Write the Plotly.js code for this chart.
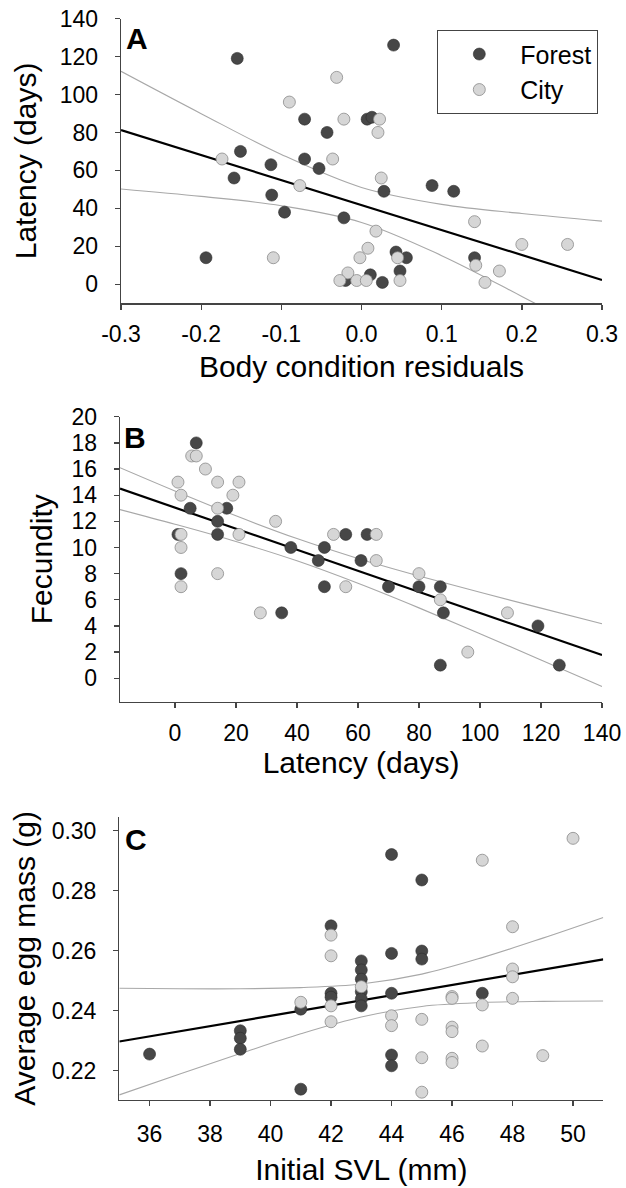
<!DOCTYPE html>
<html>
<head>
<meta charset="utf-8">
<script src="https://cdn.plot.ly/plotly-3.0.1.min.js"></script>
<style>html,body{margin:0;padding:0;background:#fff;}</style>
</head>
<body>
<div id="chart" style="width:626px;height:1188px;"></div>
<script>
// ---------- Panel A: latency vs body condition residuals ----------
const aForestX = [-0.155,-0.071,-0.043,-0.151,-0.113,-0.071,-0.053,-0.159,-0.112,-0.096,-0.022,-0.194,0.007,0.013,-0.020,0.011,0.040,0.028,0.088,0.115,0.043,0.056,0.048,0.026,0.141];
const aForestY = [119,87,80,70,63,66,61,56,47,38,35,14,87,88,2,5,126,49,52,49,17,14,7,1,14];
const aCityX = [-0.031,-0.090,-0.022,-0.174,-0.036,-0.077,-0.110,0.008,-0.002,-0.017,-0.027,-0.006,0.006,0.0225,0.0205,0.0246,0.018,0.045,0.048,0.141,0.1425,0.200,0.257,0.172,0.154];
const aCityY = [109,96,87,66,66,52,14,19,14,6,2,2,2,87,80,56,28,14,2,33,10,21,21,7,1];
const aFitX = [-0.3,-0.2,-0.1,0,0.1,0.2,0.3];
const aFitY = [81.2,68.0,54.9,41.8,28.6,15.5,2.3];
const aUpper = [112.2,89.9,68.4,51.0,42.1,37.3,33.3];
const aLower = [50.2,46.3,41.4,32.6,15.1,-6.4,-28.7];
const aTickVals = [-0.3,-0.2,-0.1,0,0.1,0.2,0.3];
const aTickText = ['-0.3','-0.2','-0.1','0.0','0.1','0.2','0.3'];

// ---------- Panel B: fecundity vs latency ----------
const bForestX = [7,5,17,14,14,1,2,38,35,56,63,49,47,61,49,70,80,87,88,119,87,126];
const bForestY = [18,13,13,12,11,11,8,10,5,11,11,10,9,9,7,7,7,7,5,4,1,1];
const bCityX = [5.5,7,10,1,14,21,2,19,14,33,2,21,2,14,2,28,52,66,66,56,80,87,109,96];
const bCityY = [17,17,16,15,15,15,14,14,13,12,11,11,10,8,7,5,11,11,9,7,8,6,5,2];
const bFitX = [-18,0,20,40,60,80,100,120,140];
const bFitY = [14.50,13.05,11.44,9.83,8.21,6.60,4.99,3.38,1.77];
const bUpper = [16.10,14.32,12.42,10.68,9.16,7.82,6.57,5.36,4.17];
const bLower = [12.90,11.78,10.46,8.98,7.26,5.38,3.41,1.40,-0.63];

// ---------- Panel C: average egg mass vs initial SVL ----------
const cForestX = [36,39,39,39,41,41,44,45,42,44,45,45,43,43,43,43,43,43,42,42,44,47,44,44];
const cForestY = [0.2255,0.2333,0.2308,0.2271,0.2405,0.2138,0.2921,0.2836,0.2683,0.2591,0.2599,0.2572,0.2566,0.2536,0.2505,0.2463,0.2439,0.2416,0.2458,0.2445,0.2458,0.2458,0.2252,0.2216];
const cCityX = [41,50,47,42,42,48,48,48,48,43,42,42,46,46,47,44,44,45,46,46,47,45,46,46,49,45];
const cCityY = [0.2428,0.2975,0.2902,0.2652,0.2583,0.2680,0.2539,0.2513,0.2441,0.2480,0.2416,0.2363,0.2447,0.2441,0.2419,0.2383,0.2350,0.2371,0.2345,0.2330,0.2282,0.2243,0.2241,0.2227,0.2250,0.2128];
const cFitX = [35,37,39,41,43,45,47,49,51];
const cFitY = [0.2297,0.2331,0.2365,0.2400,0.2434,0.2468,0.2502,0.2536,0.2571];
const cUpper = [0.2475,0.2473,0.2473,0.2477,0.2489,0.2522,0.2577,0.2642,0.2711];
const cLower = [0.2119,0.2189,0.2257,0.2323,0.2379,0.2414,0.2427,0.2431,0.2432];

const groupNames = ['Forest','City'];
const panelLabels = ['A','B','C'];

const FONT = 'Liberation Sans, Arial, Helvetica, sans-serif';
const forestMarker = {size:12, color:'#474747', line:{color:'#2d2d2d', width:0.6}};
const cityMarker = {size:12, color:'#d6d6d6', line:{color:'#8a8a8a', width:0.8}};
const ciLine = {color:'#a8a8a8', width:1.1, shape:'spline'};
const fitLine = {color:'#000000', width:2.2};

function panel(xa, ya, fx, fy, cx, cy, lx, ly, lu, ll, showLeg) {
  return [
    {x:lx, y:lu, xaxis:xa, yaxis:ya, mode:'lines', line:ciLine, showlegend:false, hoverinfo:'skip'},
    {x:lx, y:ll, xaxis:xa, yaxis:ya, mode:'lines', line:ciLine, showlegend:false, hoverinfo:'skip'},
    {x:lx, y:ly, xaxis:xa, yaxis:ya, mode:'lines', line:fitLine, showlegend:false, hoverinfo:'skip'},
    {x:fx, y:fy, xaxis:xa, yaxis:ya, mode:'markers', marker:forestMarker, name:groupNames[0], showlegend:showLeg, legendgroup:'f'},
    {x:cx, y:cy, xaxis:xa, yaxis:ya, mode:'markers', marker:cityMarker, name:groupNames[1], showlegend:showLeg, legendgroup:'c'}
  ];
}

const data = [].concat(
  panel('x','y', aForestX,aForestY,aCityX,aCityY,aFitX,aFitY,aUpper,aLower,true),
  panel('x2','y2', bForestX,bForestY,bCityX,bCityY,bFitX,bFitY,bUpper,bLower,false),
  panel('x3','y3', cForestX,cForestY,cCityX,cCityY,cFitX,cFitY,cUpper,cLower,false)
);

const axBase = {
  showline:true, linecolor:'#444', linewidth:1.3, mirror:false,
  ticks:'outside', ticklen:5, tickwidth:1.3, tickcolor:'#444',
  showgrid:false, zeroline:false, automargin:false,
  tickfont:{family:FONT, size:23, color:'#000'}
};
function ax(extra){ return Object.assign({}, axBase, extra); }
const titleFont = {family:FONT, size:30, color:'#000'};

const layout = {
  width:626, height:1188,
  margin:{l:0,r:0,t:0,b:0},
  paper_bgcolor:'#fff', plot_bgcolor:'#fff',
  font:{family:FONT, color:'#000'},
  showlegend:true,
  legend:{x:437/626, y:1-30/1188, xanchor:'left', yanchor:'top',
    bgcolor:'#fff', bordercolor:'#444', borderwidth:1.3,
    font:{family:FONT, size:25, color:'#000'}, itemwidth:72, tracegroupgap:0},
  xaxis: ax({domain:[0.1933,0.9617], range:[-0.3,0.3], anchor:'y',
    tickmode:'array', tickvals:aTickVals, ticktext:aTickText, ticklabelstandoff:5,
    title:{text:'Body condition residuals', font:titleFont, standoff:9}}),
  yaxis: ax({domain:[0.7447,0.9844], range:[-10,140], anchor:'x', tick0:0, dtick:20, ticklabelstandoff:12,
    title:{text:'Latency (days)', font:titleFont, standoff:14}}),
  xaxis2: ax({domain:[0.1917,0.9617], range:[-18,140], anchor:'y2', tickmode:'array',
    tickvals:[0,20,40,60,80,100,120,140], ticklabelstandoff:5,
    title:{text:'Latency (days)', font:titleFont, standoff:6}}),
  yaxis2: ax({domain:[0.4093,0.6492], range:[-1.8,20], anchor:'x2', tick0:0, dtick:2, ticklabelstandoff:12,
    title:{text:'Fecundity', font:titleFont, standoff:10}}),
  xaxis3: ax({domain:[0.1906,0.9637], range:[35,51], anchor:'y3', tick0:36, dtick:2, ticklabelstandoff:8,
    title:{text:'Initial SVL (mm)', font:titleFont, standoff:13}}),
  yaxis3: ax({domain:[0.0741,0.3125], range:[0.2102,0.3047], anchor:'x3', tick0:0.22, dtick:0.02, tickformat:'.2f', ticklabelstandoff:12,
    title:{text:'Average egg mass (g)', font:titleFont, standoff:7}}),
  annotations:[
    {text:'<b>'+panelLabels[0]+'</b>', xref:'paper', yref:'paper', x:137/626, y:1-38/1188, xanchor:'center', yanchor:'middle', showarrow:false, font:{family:FONT, size:30, color:'#000'}},
    {text:'<b>'+panelLabels[1]+'</b>', xref:'paper', yref:'paper', x:135/626, y:1-437/1188, xanchor:'center', yanchor:'middle', showarrow:false, font:{family:FONT, size:30, color:'#000'}},
    {text:'<b>'+panelLabels[2]+'</b>', xref:'paper', yref:'paper', x:136/626, y:1-839/1188, xanchor:'center', yanchor:'middle', showarrow:false, font:{family:FONT, size:30, color:'#000'}}
  ]
};

Plotly.newPlot('chart', data, layout, {staticPlot:true, displayModeBar:false});
</script>
</body>
</html>
